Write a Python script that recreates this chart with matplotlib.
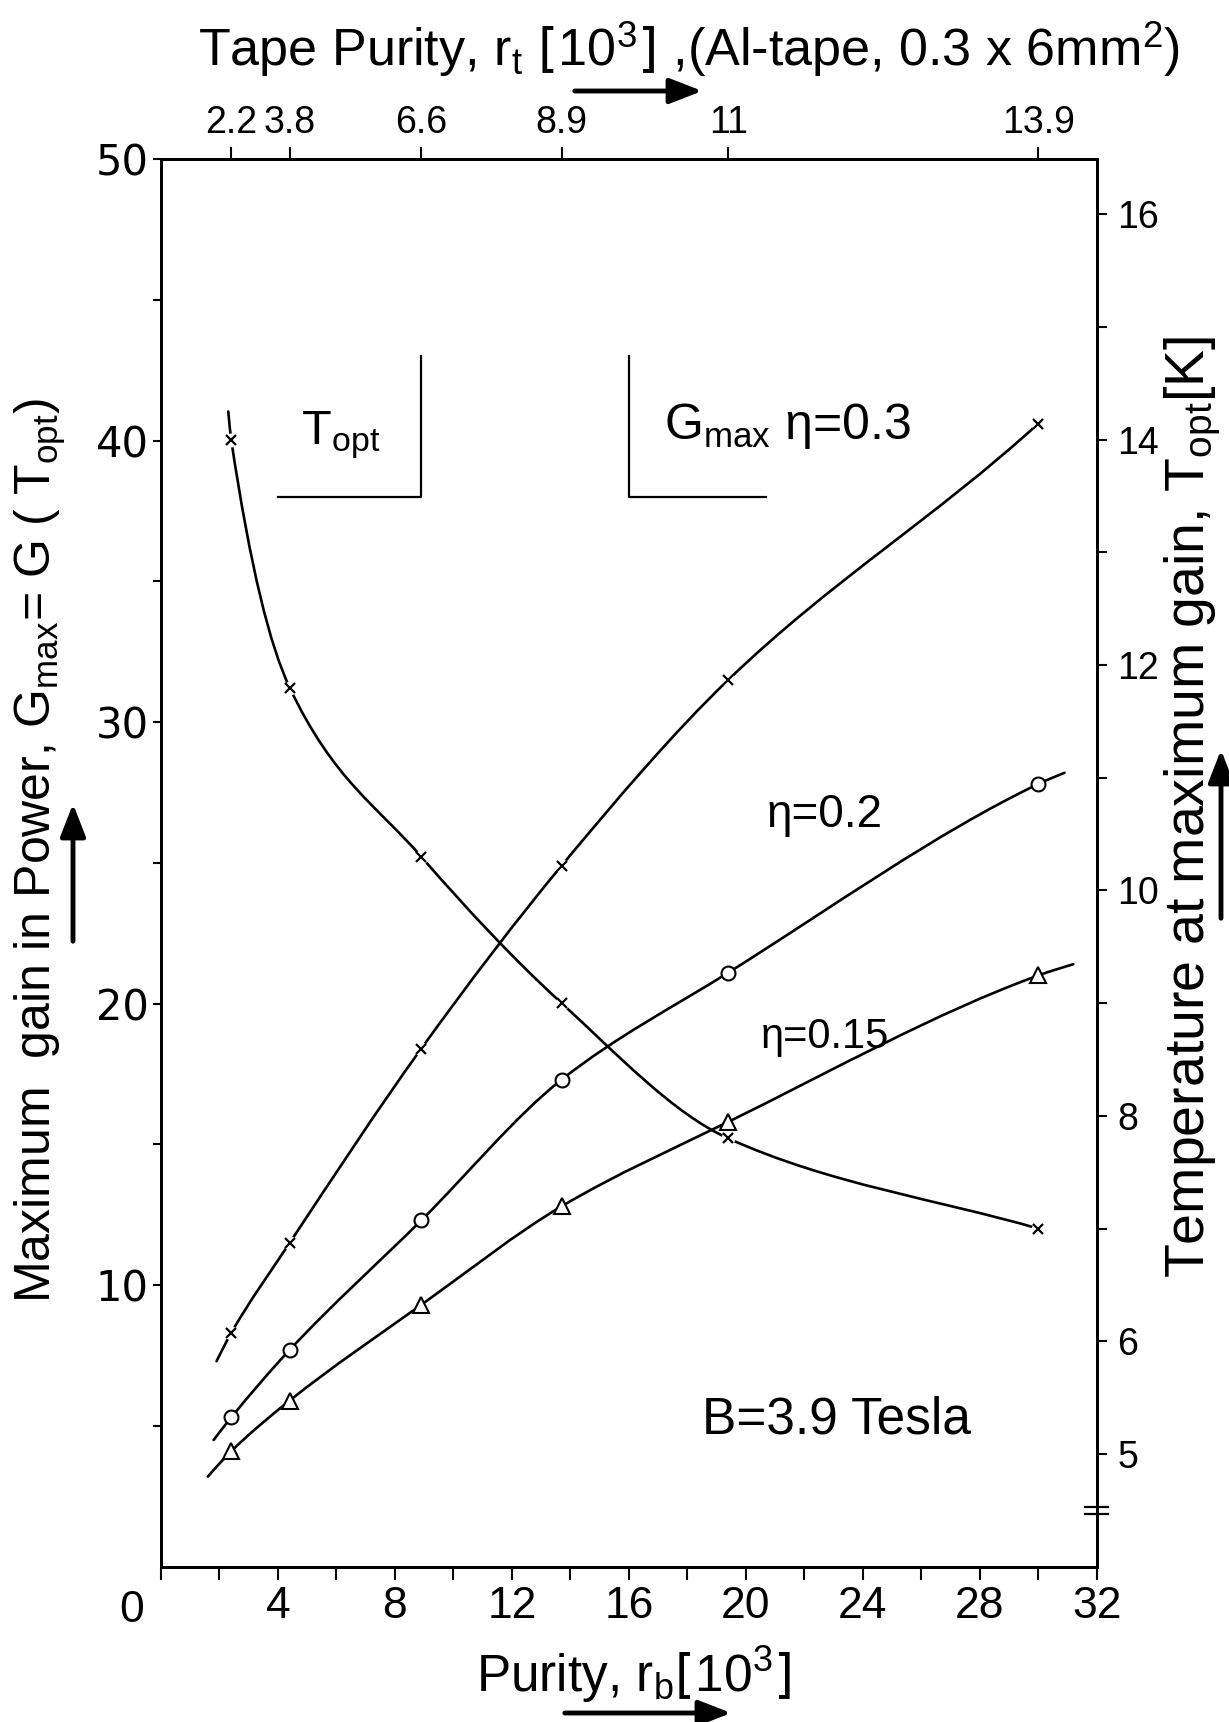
import numpy as np
import matplotlib
matplotlib.use("Agg")
import matplotlib.pyplot as plt
from matplotlib.path import Path
from matplotlib.patches import PathPatch, FancyArrowPatch
import matplotlib.transforms as mtransforms

plt.rcParams["mathtext.default"] = "regular"

NARROW = ["Liberation Sans", "DejaVu Sans"]
WIDE = ["DejaVu Sans"]

# bulk purity r_b of the calculated points [10^3]
purity_rb = [2.4, 4.4, 8.9, 13.7, 19.4, 30.0]
# tape purity r_t belonging to each point [10^3]
tape_purity = ["2.2", "3.8", "6.6", "8.9", "11", "13.9"]

# maximum gain in power G_max for three efficiencies
gmax_eta030 = [8.3, 11.5, 18.4, 24.9, 31.5, 40.6]
gmax_eta020 = [5.3, 7.7, 12.3, 17.3, 21.1, 27.8]
gmax_eta015 = [4.1, 5.9, 9.3, 12.8, 15.8, 21.0]
# temperature at maximum gain T_opt [K]
t_opt = [14.0, 11.8, 10.3, 9.0, 7.8, 7.0]

# where each drawn curve begins and ends (purity, value)
ends_eta030 = [(1.9, 7.3), (30.1, 40.7)]
ends_eta020 = [(1.8, 4.5), (30.9, 28.2)]
ends_eta015 = [(1.6, 3.2), (31.2, 21.4)]
ends_topt = [(2.3, 14.25), (30.2, 6.985)]

# axis ticks
x_ticks = list(range(0, 33, 2))
x_labels = ["" if (v % 4 or v == 0) else str(v) for v in x_ticks]
g_ticks = [10, 20, 30, 40, 50]
t_ticks = [5, 6, 8, 10, 12, 14, 16]

W, H = 1229, 1722
fig = plt.figure(figsize=(W / 100, H / 100), dpi=100)
fig.patch.set_facecolor("white")


def fx(px):
    return px / W


def fy(py):
    return 1 - py / H


ax = fig.add_axes([fx(161), fy(1566.7), fx(1096.7) - fx(161), fy(159) - fy(1566.7)])
ax.set_xlim(0, 32)
ax.set_ylim(0, 50)
ax2 = ax.twinx()
ax2.set_ylim(4.0, 16.49)
ax3 = ax.twiny()
ax3.set_xlim(0, 32)

for a in (ax, ax2, ax3):
    for s in a.spines.values():
        s.set_linewidth(2.0)


def smooth_path(xs, ys):
    """Shape-preserving cubic Hermite path through points with increasing x."""
    xs = np.asarray(xs, float)
    ys = np.asarray(ys, float)
    n = len(xs)
    h = np.diff(xs)
    s = np.diff(ys) / h
    d = np.zeros(n)
    for i in range(1, n - 1):
        if s[i - 1] * s[i] > 0:
            w1 = 2 * h[i] + h[i - 1]
            w2 = h[i] + 2 * h[i - 1]
            d[i] = (w1 + w2) / (w1 / s[i - 1] + w2 / s[i])
    d[0] = ((2 * h[0] + h[1]) * s[0] - h[0] * s[1]) / (h[0] + h[1])
    if np.sign(d[0]) != np.sign(s[0]):
        d[0] = 0.0
    d[-1] = ((2 * h[-1] + h[-2]) * s[-1] - h[-1] * s[-2]) / (h[-1] + h[-2])
    if np.sign(d[-1]) != np.sign(s[-1]):
        d[-1] = 0.0
    verts = [(xs[0], ys[0])]
    codes = [Path.MOVETO]
    for i in range(n - 1):
        dx = h[i] / 3.0
        verts += [(xs[i] + dx, ys[i] + d[i] * dx),
                  (xs[i + 1] - dx, ys[i + 1] - d[i + 1] * dx),
                  (xs[i + 1], ys[i + 1])]
        codes += [Path.CURVE4] * 3
    return Path(verts, codes)


def curve(axis, ends, ys):
    px = [ends[0][0]] + purity_rb + [ends[1][0]]
    py = [ends[0][1]] + list(ys) + [ends[1][1]]
    axis.add_patch(PathPatch(smooth_path(px, py), facecolor="none", edgecolor="black",
                             lw=1.9, capstyle="round", zorder=2))


curve(ax, ends_eta030, gmax_eta030)
curve(ax, ends_eta020, gmax_eta020)
curve(ax, ends_eta015, gmax_eta015)
curve(ax2, ends_topt, t_opt)

# markers, with a small white gap in the line around the crosses
ax.plot(purity_rb, gmax_eta030, ls="none", marker="o", ms=10, mfc="white", mec="none", zorder=3)
ax.plot(purity_rb, gmax_eta030, ls="none", marker="x", ms=6.5, mew=1.6, color="black", zorder=4)
ax.plot(purity_rb, gmax_eta020, ls="none", marker="o", ms=10, mfc="white", mec="black", mew=1.5, zorder=4)
ax.plot(purity_rb, gmax_eta015, ls="none", marker="^", ms=12, mfc="white", mec="black", mew=1.5, zorder=4)
ax2.plot(purity_rb, t_opt, ls="none", marker="o", ms=10, mfc="white", mec="none", zorder=3)
ax2.plot(purity_rb, t_opt, ls="none", marker="x", ms=6.5, mew=1.6, color="black", zorder=4)

# bottom axis
ax.set_xticks(x_ticks)
ax.set_xticklabels(x_labels, family=NARROW, fontsize=32)
ax.tick_params(axis="x", direction="out", length=9, width=1.5, pad=5)
# left axis
ax.set_yticks(g_ticks)
ax.set_yticklabels([str(v) for v in g_ticks], family=WIDE, fontsize=30)
ax.set_yticks([5, 15, 25, 35, 45], minor=True)
ax.tick_params(axis="y", which="both", direction="out", length=6, width=1.5, pad=3)
# right axis
ax2.set_yticks(t_ticks)
ax2.set_yticklabels([str(v) for v in t_ticks], family=NARROW, fontsize=27)
ax2.set_yticks([7, 9, 11, 13, 15], minor=True)
ax2.tick_params(axis="y", which="both", direction="out", length=7, width=1.5, pad=8)
# top axis: tape purity
ax3.set_xticks(purity_rb)
ax3.set_xticklabels(tape_purity, family=NARROW, fontsize=27)
ax3.tick_params(axis="x", direction="out", length=9, width=1.5, pad=4)

# shared origin label
fig.text(fx(132), fy(1610), "0", family=NARROW, fontsize=32, ha="center", va="center")

# break mark on the temperature axis
brk = mtransforms.blended_transform_factory(ax2.transAxes, ax2.transData)
for tv in (4.53, 4.47):
    ax2.plot([0.9875, 1.0124], [tv, tv], color="black", lw=1.6, transform=brk, clip_on=False)

# bracketed keys
ax.plot([4.0, 8.9, 8.9], [38, 38, 43], color="black", lw=1.6)
ax.plot([20.7, 16.0, 16.0], [38, 38, 43], color="black", lw=1.6)
ax.text(4.8, 40.2, r"T$_{opt}$", family=NARROW, fontsize=35, va="center")
ax.text(17.2, 40.5, r"G$_{max}$ η=0.3", family=NARROW, fontsize=36, va="center")
ax.text(20.7, 26.7, "η=0.2", family=NARROW, fontsize=33, va="center")
ax.text(20.5, 18.8, "η=0.15", family=NARROW, fontsize=30, va="center")
ax.text(18.5, 5.2, "B=3.9 Tesla", family=NARROW, fontsize=37, va="center")

# axis titles
fig.text(fx(689), fy(49), r"Tape Purity, r$_t$ $\left[10^3\right]$ ,(Al-tape, 0.3 x 6mm$^2$)",
         family=NARROW, fontsize=37.5, ha="center", va="center")
fig.text(fx(634), fy(1675), r"Purity, r$_b$$\left[10^3\right]$",
         family=NARROW, fontsize=37, ha="center", va="center")
fig.text(fx(40), fy(851), r"Maximum  gain in Power, G$_{max}$= G ( T$_{opt}$)",
         family=NARROW, fontsize=36, ha="center", va="center", rotation=90)
fig.text(fx(1193), fy(807), r"Temperature at maximum gain, T$_{opt}$[K]",
         family=NARROW, fontsize=40, ha="center", va="center", rotation=90)


def arrow(x0, y0, x1, y1):
    fig.add_artist(FancyArrowPatch(
        (fx(x0), fy(y0)), (fx(x1), fy(y1)), transform=fig.transFigure,
        arrowstyle="-|>,head_length=0.9,head_width=0.35", mutation_scale=22,
        lw=3.5, color="black"))


arrow(572, 91, 705, 91)
arrow(562, 1713, 734, 1713)
arrow(73, 944, 73, 801)
arrow(1221, 921, 1221, 747)

fig.savefig("out.png", dpi=100, facecolor="white")
